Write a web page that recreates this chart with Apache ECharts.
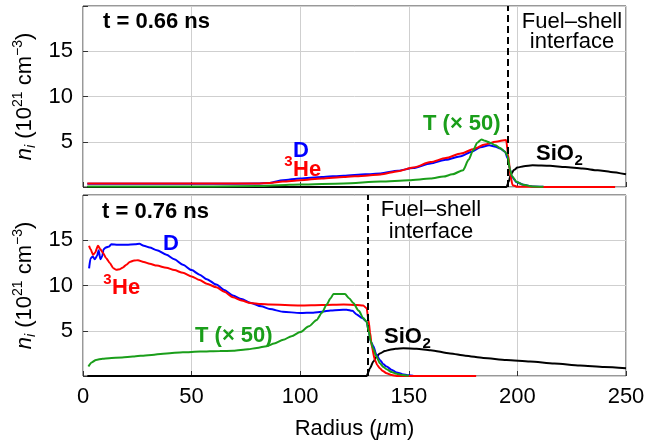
<!DOCTYPE html>
<html>
<head>
<meta charset="utf-8">
<script src="https://cdn.jsdelivr.net/npm/echarts@6/dist/echarts.min.js"></script>
<style>
  html, body { margin: 0; padding: 0; background: #fff; }
  #main { width: 667px; height: 444px; }
</style>
</head>
<body>
<div id="main"></div>
<script>
// radius (um) -> density (1e21 cm^-3)

// t = 0.66 ns
var D066 = [[2,0.35],[20,0.35],[40,0.35],[60,0.35],[80,0.38],[86,0.45],[92,0.75],[100,0.95],[110,1.1],[120,1.25],[130,1.4],[137,1.5],[145,1.8],[152,2.1],[160,2.6],[167,3.0],[174,3.4],[179,3.9],[183,4.4],[187,4.62],[190,4.45],[192,4.26],[194.3,3.9],[195.5,3.2],[196.5,2.0],[197.5,1.1],[199.7,0.52],[202.7,0.25],[207,0.06],[212,0.02]];
var He066 = [[2,0.38],[20,0.38],[40,0.38],[60,0.38],[80,0.4],[86,0.45],[92,0.6],[100,0.75],[110,0.95],[120,1.1],[130,1.25],[137,1.38],[145,1.75],[152,2.15],[160,2.75],[167,3.2],[174,3.7],[180,4.2],[185,4.7],[190,5.0],[194.8,5.2],[195.8,3.5],[196.8,1.2],[197.8,0.2],[200,0.03],[210,0],[245,0]];
var T066 = [[2,0.05],[60,0.05],[80,0.1],[90,0.2],[100,0.27],[120,0.4],[137,0.6],[150,0.75],[160,0.93],[166,1.15],[170,1.4],[175,1.86],[177.5,3.0],[179.7,4.1],[181.5,4.9],[183.5,5.25],[185,5.1],[187.4,4.9],[190,4.6],[192,4.3],[194.3,3.9],[195.5,3.4],[196.5,2.0],[197.5,1.2],[199.7,0.55],[202.7,0.25],[207,0.06],[212,0.02]];
var SiO2066 = [[2,0],[195,0],[196,0.6],[197,1.4],[198.5,1.9],[200,2.15],[203,2.3],[207,2.4],[215,2.35],[222,2.2],[230,2.04],[237,1.85],[243,1.67],[250,1.4]];

// t = 0.76 ns
var D076 = [[2.8,11.9],[3.5,13.0],[4.5,13.2],[5.5,12.9],[6.5,13.3],[7.2,13.9],[8,12.9],[8.8,13.2],[9.5,14.0],[10.5,14.2],[12,14.3],[13,14.55],[16,14.5],[20,14.5],[24,14.55],[26,14.6],[28,14.4],[30.7,14.2],[34,13.9],[38.4,13.4],[42,12.9],[46,12.3],[50,11.7],[53.7,11.2],[57,10.7],[61.4,10.1],[65,9.5],[69,8.9],[73,8.5],[77,8.1],[82,7.7],[86,7.4],[92,7.1],[100,6.96],[106,7.0],[110,7.1],[114,7.25],[118,7.3],[121.4,7.33],[124,7.2],[126,6.8],[128.5,6.4],[130.6,6.0],[131.5,5.0],[132.5,3.8],[133.7,3.3],[135,2.4],[136.7,1.78],[138.3,1.3],[139.8,1.04],[142,0.7],[144.4,0.4],[147,0.2],[150,0.08],[152,0.02]];
var He076 = [[2.8,14.4],[3.5,14.0],[4.6,13.4],[5.5,13.6],[6.9,14.4],[8,14.0],[9.2,13.6],[10.7,13.0],[12.3,12.5],[14,11.9],[15.3,11.75],[17,11.8],[18.4,12.0],[20,12.3],[21.5,12.6],[23.5,12.75],[25.3,12.8],[28,12.6],[30.7,12.4],[34,12.2],[38.4,11.96],[42,11.7],[46,11.4],[50,11.0],[53.7,10.6],[57,10.2],[61.4,9.8],[65,9.3],[69,8.7],[73,8.35],[77,8.07],[82,7.95],[86,7.9],[100,7.8],[110,7.85],[120,7.9],[126,7.85],[129,7.78],[130.6,7.5],[131.4,6.2],[132.2,4.8],[132.9,3.3],[134.4,1.78],[135.5,1.2],[136.7,0.85],[138,0.55],[139.8,0.3],[142,0.1],[144.4,0],[181,0]];
var T076 = [[2.5,1.04],[4,1.5],[6,1.78],[9,1.9],[12,1.96],[18,2.05],[23,2.15],[30,2.3],[38.5,2.5],[46,2.62],[53.9,2.7],[63,2.77],[69.2,2.78],[76,2.95],[80,3.1],[84.6,3.3],[88,3.6],[92.2,4.0],[96,4.4],[100,4.85],[104,5.5],[107.6,6.2],[110,7.0],[112.2,7.9],[114,8.6],[115.3,9.05],[120.6,9.05],[122.5,8.6],[124.4,8.07],[127,7.2],[129,6.4],[130.6,6.0],[131.5,5.0],[132.5,3.8],[133.7,3.0],[135,2.2],[136.7,1.4],[138.3,1.0],[139.8,0.74],[142,0.45],[144.4,0.25],[147,0.1],[150,0.03]];
var SiO2076 = [[2,0],[130.6,0],[131.3,0.4],[132.1,0.85],[133.7,1.59],[135,2.1],[136.7,2.5],[139,2.75],[141.3,2.9],[144,3.0],[147.5,3.07],[153.6,3.0],[160,2.85],[169,2.5],[176,2.25],[184.3,2.0],[195,1.78],[205.8,1.6],[217,1.38],[228.8,1.15],[240,1.0],[250,0.85]];

// fuel-shell interface radius for each time
var interfaces = [195.5, 131];
var xTicks = [0, 50, 100, 150, 200, 250];
var yTicks = [5, 10, 15];

var FONT = '"Liberation Sans", Arial, sans-serif';
var FS = 22;
var BLUE = '#0000ff', RED = '#ff0000', GREEN = '#1a9e1a', BLACK = '#000';

var myChart = echarts.init(document.getElementById('main'));

// width of a string, to butt subscripts against their base text
var measureCtx = document.createElement('canvas').getContext('2d');
function textWidth(s, font) {
    measureCtx.font = font;
    return measureCtx.measureText(s).width;
}

var yName = '{it|n}{sub|i}{r| (10}{sup|21}{r| cm}{sup|\u22123}{r|)}';
var yRich = {
    it: { fontStyle: 'italic', fontSize: FS, lineHeight: 26, fontFamily: FONT, color: '#000' },
    sub: { fontStyle: 'italic', fontSize: 14, lineHeight: 13, verticalAlign: 'bottom', fontFamily: FONT, color: '#000' },
    r: { fontSize: FS, lineHeight: 26, fontFamily: FONT, color: '#000' },
    sup: { fontSize: 14, lineHeight: 13, verticalAlign: 'top', fontFamily: FONT, color: '#000' }
};

function xAxisFor(idx, showLabels) {
    return {
        type: 'value', gridIndex: idx, min: 0, max: 250, interval: 50,
        axisLine: { show: false },
        axisTick: { show: true, inside: true, length: 5, lineStyle: { color: '#333' } },
        axisLabel: { show: showLabels, fontSize: FS, fontFamily: FONT, color: '#000', margin: 10,
            formatter: function (v) { return xTicks.indexOf(v) >= 0 ? String(v) : ''; } },
        splitLine: { show: true, lineStyle: { color: '#cfcfcf', width: 1 } },
        name: showLabels ? '{r|Radius (}{it|\u03bc}{r|m)}' : '',
        nameLocation: 'middle', nameGap: 42,
        nameTextStyle: { rich: {
            r: { fontSize: FS, fontFamily: FONT, color: '#000' },
            it: { fontSize: FS, fontStyle: 'italic', fontFamily: FONT, color: '#000' }
        } }
    };
}

function yAxisFor(idx) {
    return {
        type: 'value', gridIndex: idx, min: 0, max: 20, interval: 5,
        axisLine: { show: false },
        axisTick: { show: true, inside: true, length: 5, lineStyle: { color: '#333' } },
        axisLabel: { fontSize: FS, fontFamily: FONT, color: '#000', margin: 10,
            formatter: function (v) { return yTicks.indexOf(v) >= 0 ? String(v) : ''; } },
        splitLine: { show: true, lineStyle: { color: '#cfcfcf', width: 1 } },
        name: yName, nameLocation: 'middle', nameRotate: 90, nameGap: 37,
        nameTextStyle: { rich: yRich }
    };
}

function line(data, color, idx, z) {
    return {
        type: 'line', xAxisIndex: idx, yAxisIndex: idx, data: data,
        showSymbol: false, symbol: 'none', smooth: 0.25, smoothMonotone: 'x',
        lineStyle: { color: color, width: 2 }, itemStyle: { color: color },
        z: z, animation: false
    };
}

function ifaceLine(idx) {
    return {
        type: 'line', xAxisIndex: idx, yAxisIndex: idx, data: [],
        markLine: {
            silent: true, symbol: 'none', animation: false,
            label: { show: false },
            lineStyle: { color: '#000', width: 2, type: [7, 4] },
            data: [{ xAxis: interfaces[idx] }]
        },
        z: 10
    };
}

function fontOf(size, weight) {
    return (weight || 'bold') + ' ' + size + 'px ' + FONT;
}

function txt(x, y, s, color, size, weight, align) {
    return {
        type: 'text', x: x, y: y, z: 100,
        style: {
            text: s, fill: color, font: fontOf(size, weight),
            textAlign: align || 'left', textVerticalAlign: 'middle', verticalAlign: 'middle'
        }
    };
}

// "SiO" with subscript 2 right after it
function sio2(x, y) {
    var w = textWidth('SiO', fontOf(FS));
    return [txt(x, y, 'SiO', '#000', FS), txt(x + w + 0.5, y + 7, '2', '#000', 15)];
}

// superscript 3 before "He"
function he3(x, y, color) {
    var w = textWidth('3', fontOf(15));
    return [txt(x - w - 0.5, y - 8, '3', color, 15), txt(x, y, 'He', color, FS)];
}

option = {
    backgroundColor: '#fff',
    animation: false,
    grid: [
        { left: 83, right: 41, top: 6, height: 181, show: true, borderColor: '#333', borderWidth: 1, backgroundColor: 'transparent' },
        { left: 83, right: 41, top: 195, height: 181, show: true, borderColor: '#333', borderWidth: 1, backgroundColor: 'transparent' }
    ],
    xAxis: [xAxisFor(0, false), xAxisFor(1, true)],
    yAxis: [yAxisFor(0), yAxisFor(1)],
    series: [
        line(SiO2066, BLACK, 0, 2),
        line(D066, BLUE, 0, 3),
        line(He066, RED, 0, 4),
        line(T066, GREEN, 0, 5),
        ifaceLine(0),
        line(SiO2076, BLACK, 1, 2),
        line(D076, BLUE, 1, 3),
        line(He076, RED, 1, 4),
        line(T076, GREEN, 1, 5),
        ifaceLine(1)
    ],
    graphic: [].concat(
        // top panel
        [txt(103, 21.5, 't = 0.66 ns', '#000', FS),
         txt(293, 150.5, 'D', BLUE, FS)],
        he3(293, 169.5, RED),
        [txt(423, 124, 'T (\u00d7 50)', GREEN, FS)],
        sio2(536, 153.5),
        [txt(572, 21.5, 'Fuel\u2013shell', '#000', FS, 'normal', 'center'),
         txt(572, 42, 'interface', '#000', FS, 'normal', 'center')],
        // bottom panel
        [txt(102, 211.7, 't = 0.76 ns', '#000', FS),
         txt(163, 244, 'D', BLUE, FS)],
        he3(112, 287.5, RED),
        [txt(195, 336, 'T (\u00d7 50)', GREEN, FS)],
        sio2(384, 337),
        [txt(431, 210, 'Fuel\u2013shell', '#000', FS, 'normal', 'center'),
         txt(431, 231.5, 'interface', '#000', FS, 'normal', 'center')]
    )
};

myChart.setOption(option);
</script>
</body>
</html>
